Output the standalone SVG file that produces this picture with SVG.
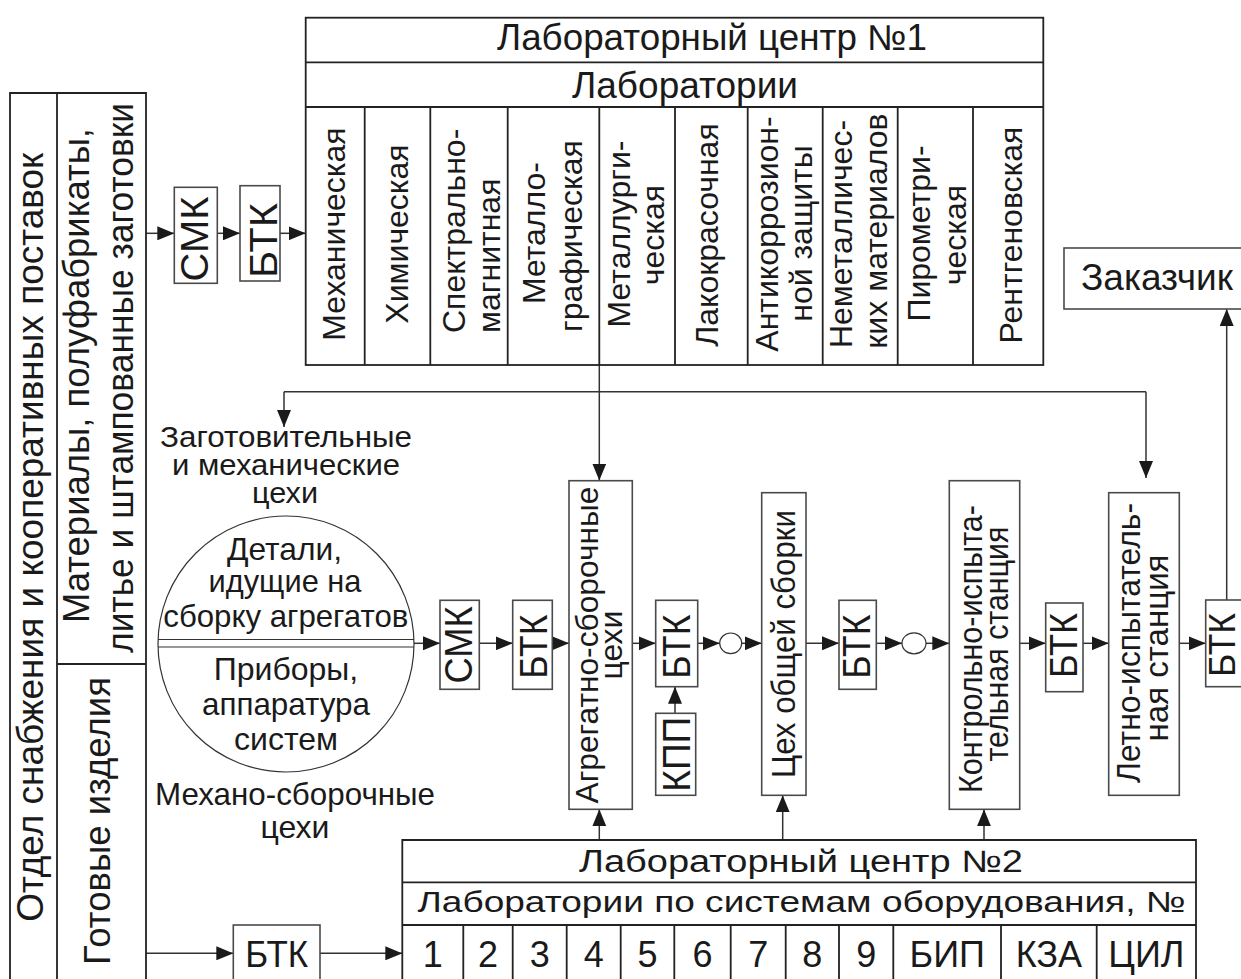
<svg xmlns="http://www.w3.org/2000/svg" width="1241" height="979" viewBox="0 0 1241 979">
<style>
text{font-family:"Liberation Sans",Arial,sans-serif;fill:#1a1a1a}
.f30{font-size:30px}.f32{font-size:32px}.f36{font-size:36px}.f38{font-size:39px}
.tbl{fill:none;stroke:#222;stroke-width:1.8}
.box{fill:#fff;stroke:#4a4a4a;stroke-width:1.6}
.ln{fill:none;stroke:#333;stroke-width:1.5}
.thin{fill:none;stroke:#333;stroke-width:1.2}
.m{text-anchor:middle}
</style>
<defs>
<marker id="ah" markerWidth="17" markerHeight="14" refX="17" refY="7" orient="auto" markerUnits="userSpaceOnUse">
<path d="M0,0 L17,7 L0,14 z" fill="#1a1a1a"/>
</marker>
</defs>
<rect width="1241" height="979" fill="#fff"/>

<!-- connectors -->
<g id="connectors" class="ln">
<line x1="146" y1="233.3" x2="174.3" y2="233.3" marker-end="url(#ah)"/>
<line x1="217.3" y1="233.3" x2="240" y2="233.3" marker-end="url(#ah)"/>
<line x1="280" y1="233.3" x2="305.7" y2="233.3" marker-end="url(#ah)"/>
<polyline points="599.3,365 599.3,391.7"/>
<line x1="284" y1="391.7" x2="1146" y2="391.7"/>
<line x1="284" y1="391.7" x2="284" y2="427" marker-end="url(#ah)"/>
<line x1="599.3" y1="391.7" x2="599.3" y2="480.5" marker-end="url(#ah)"/>
<line x1="1146" y1="391.7" x2="1146" y2="478" marker-end="url(#ah)"/>
<line x1="414" y1="643.3" x2="440" y2="643.3" marker-end="url(#ah)"/>
<line x1="479.3" y1="643.3" x2="512.7" y2="643.3" marker-end="url(#ah)"/>
<line x1="552.3" y1="643.3" x2="569" y2="643.3" marker-end="url(#ah)"/>
<line x1="632.3" y1="643.3" x2="655.7" y2="643.3" marker-end="url(#ah)"/>
<line x1="697.7" y1="643.3" x2="719.7" y2="643.3" marker-end="url(#ah)"/>
<line x1="741.7" y1="643.3" x2="761.7" y2="643.3" marker-end="url(#ah)"/>
<line x1="806" y1="643.3" x2="839" y2="643.3" marker-end="url(#ah)"/>
<line x1="876.3" y1="643.3" x2="902" y2="643.3" marker-end="url(#ah)"/>
<line x1="926" y1="643.3" x2="949.3" y2="643.3" marker-end="url(#ah)"/>
<line x1="1019.7" y1="643.3" x2="1045.7" y2="643.3" marker-end="url(#ah)"/>
<line x1="1083" y1="643.3" x2="1108.7" y2="643.3" marker-end="url(#ah)"/>
<line x1="1179.3" y1="643.3" x2="1205.7" y2="643.3" marker-end="url(#ah)"/>
<line x1="675" y1="713.3" x2="675" y2="686.7" marker-end="url(#ah)"/>
<line x1="1226.7" y1="600" x2="1226.7" y2="309" marker-end="url(#ah)"/>
<line x1="599.3" y1="840" x2="599.3" y2="809.3" marker-end="url(#ah)"/>
<line x1="782.7" y1="840" x2="782.7" y2="795.3" marker-end="url(#ah)"/>
<line x1="984" y1="840" x2="984" y2="809.3" marker-end="url(#ah)"/>
<line x1="146" y1="953.3" x2="233.3" y2="953.3" marker-end="url(#ah)"/>
<line x1="320" y1="953.3" x2="402.3" y2="953.3" marker-end="url(#ah)"/>
</g>

<!-- left supply column -->
<g id="supply">
<path class="tbl" d="M10,990 V93 H146 V990 M57,93 V990 M57,664 H146"/>
<text class="f36" transform="translate(43,921.7) rotate(-90)" style="font-size:37px" textLength="769" lengthAdjust="spacingAndGlyphs">Отдел снабжения и кооперативных поставок</text>
<text class="f36" transform="translate(89,623) rotate(-90)" textLength="495" lengthAdjust="spacingAndGlyphs">Материалы, полуфабрикаты,</text>
<text class="f36" transform="translate(133,653) rotate(-90)" textLength="550" lengthAdjust="spacingAndGlyphs">литье и штампованные заготовки</text>
<text class="f36" transform="translate(110,965) rotate(-90)" textLength="288" lengthAdjust="spacingAndGlyphs">Готовые изделия</text>
</g>

<g id="smk-top">
<rect class="box" x="174.3" y="187.3" width="43" height="96"/>
<text class="f38 m" transform="translate(208.3,239) rotate(-90)" textLength="85" lengthAdjust="spacingAndGlyphs">СМК</text>
</g>
<g id="btk-top">
<rect class="box" x="240" y="185.7" width="40" height="95.3"/>
<text class="f38 m" transform="translate(276.7,240.6) rotate(-90)" textLength="75" lengthAdjust="spacingAndGlyphs">БТК</text>
</g>

<!-- Lab center 1 -->
<g id="lab1">
<rect class="tbl" x="305.7" y="17.7" width="737.6" height="347.3"/>
<path class="tbl" d="M305.7,62.3 H1043.3 M305.7,107 H1043.3 M364.7,107 V365 M430.3,107 V365 M507.7,107 V365 M599.3,107 V365 M675,107 V365 M747.7,107 V365 M822.7,107 V365 M897.7,107 V365 M973,107 V365"/>
<text class="f36" x="497" y="50" textLength="430" lengthAdjust="spacingAndGlyphs">Лабораторный центр №1</text>
<text class="f36" x="572" y="98" textLength="226" lengthAdjust="spacingAndGlyphs">Лаборатории</text>
<g class="f32">
<text class="m" transform="translate(345,234) rotate(-90)">Механическая</text>
<text class="m" transform="translate(408,234) rotate(-90)">Химическая</text>
<text transform="translate(465,333) rotate(-90)">Спектрально-</text>
<text transform="translate(500,333) rotate(-90)">магнитная</text>
<text class="m" transform="translate(545,233) rotate(-90)">Металло-</text>
<text class="m" transform="translate(582,236) rotate(-90)">графическая</text>
<text class="m" transform="translate(630,234) rotate(-90)">Металлурги-</text>
<text class="m" transform="translate(664,235) rotate(-90)">ческая</text>
<text class="m" transform="translate(718,235) rotate(-90)">Лакокрасочная</text>
<text class="m" transform="translate(778,234) rotate(-90)">Антикоррозион-</text>
<text class="m" transform="translate(812,233.5) rotate(-90)">ной защиты</text>
<text class="m" transform="translate(852,234) rotate(-90)">Неметалличес-</text>
<text class="m" transform="translate(887,231) rotate(-90)">ких материалов</text>
<text class="m" transform="translate(930,233.5) rotate(-90)">Пирометри-</text>
<text class="m" transform="translate(966,235) rotate(-90)">ческая</text>
<text class="m" transform="translate(1022,235) rotate(-90)">Рентгеновская</text>
</g>
</g>

<g id="customer">
<rect class="box" x="1064" y="248" width="190" height="61"/>
<text class="f36" x="1081" y="290" style="font-size:37px" textLength="152" lengthAdjust="spacingAndGlyphs">Заказчик</text>
</g>

<!-- shops labels -->
<g id="shops-label-top" class="f30">
<text class="m" x="286" y="446.7" textLength="252" lengthAdjust="spacingAndGlyphs">Заготовительные</text>
<text class="m" x="286" y="475" textLength="228" lengthAdjust="spacingAndGlyphs">и механические</text>
<text class="m" x="285" y="503.3" textLength="66" lengthAdjust="spacingAndGlyphs">цехи</text>
</g>
<g id="parts-circle">
<circle cx="286" cy="644" r="128" class="thin" fill="none"/>
<line class="thin" x1="158.1" y1="639.5" x2="414" y2="639.5"/>
<line class="thin" x1="158.1" y1="647" x2="414" y2="647"/>
<g class="f32">
<text class="m" x="284.5" y="560" textLength="115" lengthAdjust="spacingAndGlyphs">Детали,</text>
<text class="m" x="285" y="591.7" textLength="153" lengthAdjust="spacingAndGlyphs">идущие на</text>
<text class="m" x="285.8" y="626.7" textLength="245" lengthAdjust="spacingAndGlyphs">сборку агрегатов</text>
<text class="m" x="286" y="680">Приборы,</text>
<text class="m" x="286" y="715" textLength="168" lengthAdjust="spacingAndGlyphs">аппаратура</text>
<text class="m" x="286" y="750">систем</text>
</g>
</g>
<g id="shops-label-bottom" class="f32">
<text class="m" x="295" y="805" textLength="280" lengthAdjust="spacingAndGlyphs">Механо-сборочные</text>
<text class="m" x="295" y="838.3">цехи</text>
</g>

<!-- main flow -->
<g id="smk-mid">
<rect class="box" x="440" y="600.3" width="39.3" height="89"/>
<text class="f38 m" transform="translate(472,645) rotate(-90)" textLength="77" lengthAdjust="spacingAndGlyphs">СМК</text>
</g>
<g id="btk1">
<rect class="box" x="512.7" y="600.3" width="39.6" height="89"/>
<text class="f38 m" transform="translate(546.7,646.7) rotate(-90)" textLength="64" lengthAdjust="spacingAndGlyphs">БТК</text>
</g>
<g id="aggregate">
<rect class="box" x="569" y="480.7" width="63.3" height="328.6"/>
<text class="f32 m" transform="translate(598.3,645) rotate(-90)" textLength="317" lengthAdjust="spacingAndGlyphs">Агрегатно-сборочные</text>
<text class="f32 m" transform="translate(622,645) rotate(-90)">цехи</text>
</g>
<g id="btk2">
<rect class="box" x="655.7" y="600.3" width="42" height="86.4"/>
<text class="f38 m" transform="translate(690,646.7) rotate(-90)" textLength="64" lengthAdjust="spacingAndGlyphs">БТК</text>
</g>
<g id="kpp">
<rect class="box" x="655.7" y="713.3" width="40" height="82"/>
<text class="f38 m" transform="translate(690,754.2) rotate(-90)" textLength="75" lengthAdjust="spacingAndGlyphs">КПП</text>
</g>
<g id="node-e1"><ellipse class="thin" cx="730.7" cy="643.3" rx="11" ry="10.3" fill="#fff"/></g>
<g id="final-assembly">
<rect class="box" x="761.7" y="492.7" width="44.3" height="302.6"/>
<text class="f32 m" transform="translate(795,644) rotate(-90)" style="font-size:34px" textLength="268" lengthAdjust="spacingAndGlyphs">Цех общей сборки</text>
</g>
<g id="btk3">
<rect class="box" x="839" y="600.3" width="37.3" height="89"/>
<text class="f38 m" transform="translate(870,646.7) rotate(-90)" textLength="64" lengthAdjust="spacingAndGlyphs">БТК</text>
</g>
<g id="node-e2"><ellipse class="thin" cx="914" cy="643.3" rx="12" ry="10.5" fill="#fff"/></g>
<g id="control-station">
<rect class="box" x="949.3" y="480.7" width="70.4" height="328.6"/>
<text class="f32 m" transform="translate(981.7,649) rotate(-90)" style="font-size:33px" textLength="288" lengthAdjust="spacingAndGlyphs">Контрольно-испыта-</text>
<text class="f32 m" transform="translate(1008,644) rotate(-90)" style="font-size:33px" textLength="235" lengthAdjust="spacingAndGlyphs">тельная станция</text>
</g>
<g id="btk4">
<rect class="box" x="1045.7" y="603" width="37.3" height="88.7"/>
<text class="f38 m" transform="translate(1076.7,645.5) rotate(-90)" textLength="65" lengthAdjust="spacingAndGlyphs">БТК</text>
</g>
<g id="flight-station">
<rect class="box" x="1108.7" y="492.7" width="70.6" height="302.6"/>
<text class="f32 m" transform="translate(1140,643) rotate(-90)" style="font-size:33px" textLength="280" lengthAdjust="spacingAndGlyphs">Летно-испытатель-</text>
<text class="f32 m" transform="translate(1168,648) rotate(-90)" style="font-size:33px" textLength="187" lengthAdjust="spacingAndGlyphs">ная станция</text>
</g>
<g id="btk5">
<rect class="box" x="1205.7" y="600" width="45" height="86.7"/>
<text class="m" transform="translate(1235,645) rotate(-90)" style="font-size:36px" textLength="64" lengthAdjust="spacingAndGlyphs">БТК</text>
</g>

<!-- bottom -->
<g id="btk-bottom">
<rect class="box" x="233.3" y="925" width="86.7" height="70"/>
<text class="f36 m" x="276.7" y="966.7" style="font-size:37px" textLength="63" lengthAdjust="spacingAndGlyphs">БТК</text>
</g>
<g id="lab2">
<path class="tbl" d="M402.3,990 V840 H1196 V990 M402.3,882.3 H1196 M402.3,925 H1196 M463.3,925 V990 M512.7,925 V990 M566.7,925 V990 M620.7,925 V990 M674.3,925 V990 M730.7,925 V990 M785.7,925 V990 M839,925 V990 M893.3,925 V990 M1001,925 V990 M1096.7,925 V990"/>
<text x="579" y="871.7" style="font-size:31px" textLength="444" lengthAdjust="spacingAndGlyphs">Лабораторный центр №2</text>
<text x="417.5" y="911.7" style="font-size:29px" textLength="768" lengthAdjust="spacingAndGlyphs">Лаборатории по системам оборудования, №</text>
<g class="f36 m">
<text x="432.8" y="966.7">1</text>
<text x="488" y="966.7">2</text>
<text x="539.7" y="966.7">3</text>
<text x="593.7" y="966.7">4</text>
<text x="647.5" y="966.7">5</text>
<text x="702.5" y="966.7">6</text>
<text x="758.2" y="966.7">7</text>
<text x="812.3" y="966.7">8</text>
<text x="866.2" y="966.7">9</text>
<text x="947.2" y="966.7">БИП</text>
<text x="1048.8" y="966.7">КЗА</text>
<text x="1146.4" y="966.7">ЦИЛ</text>
</g>
</g>
</svg>
